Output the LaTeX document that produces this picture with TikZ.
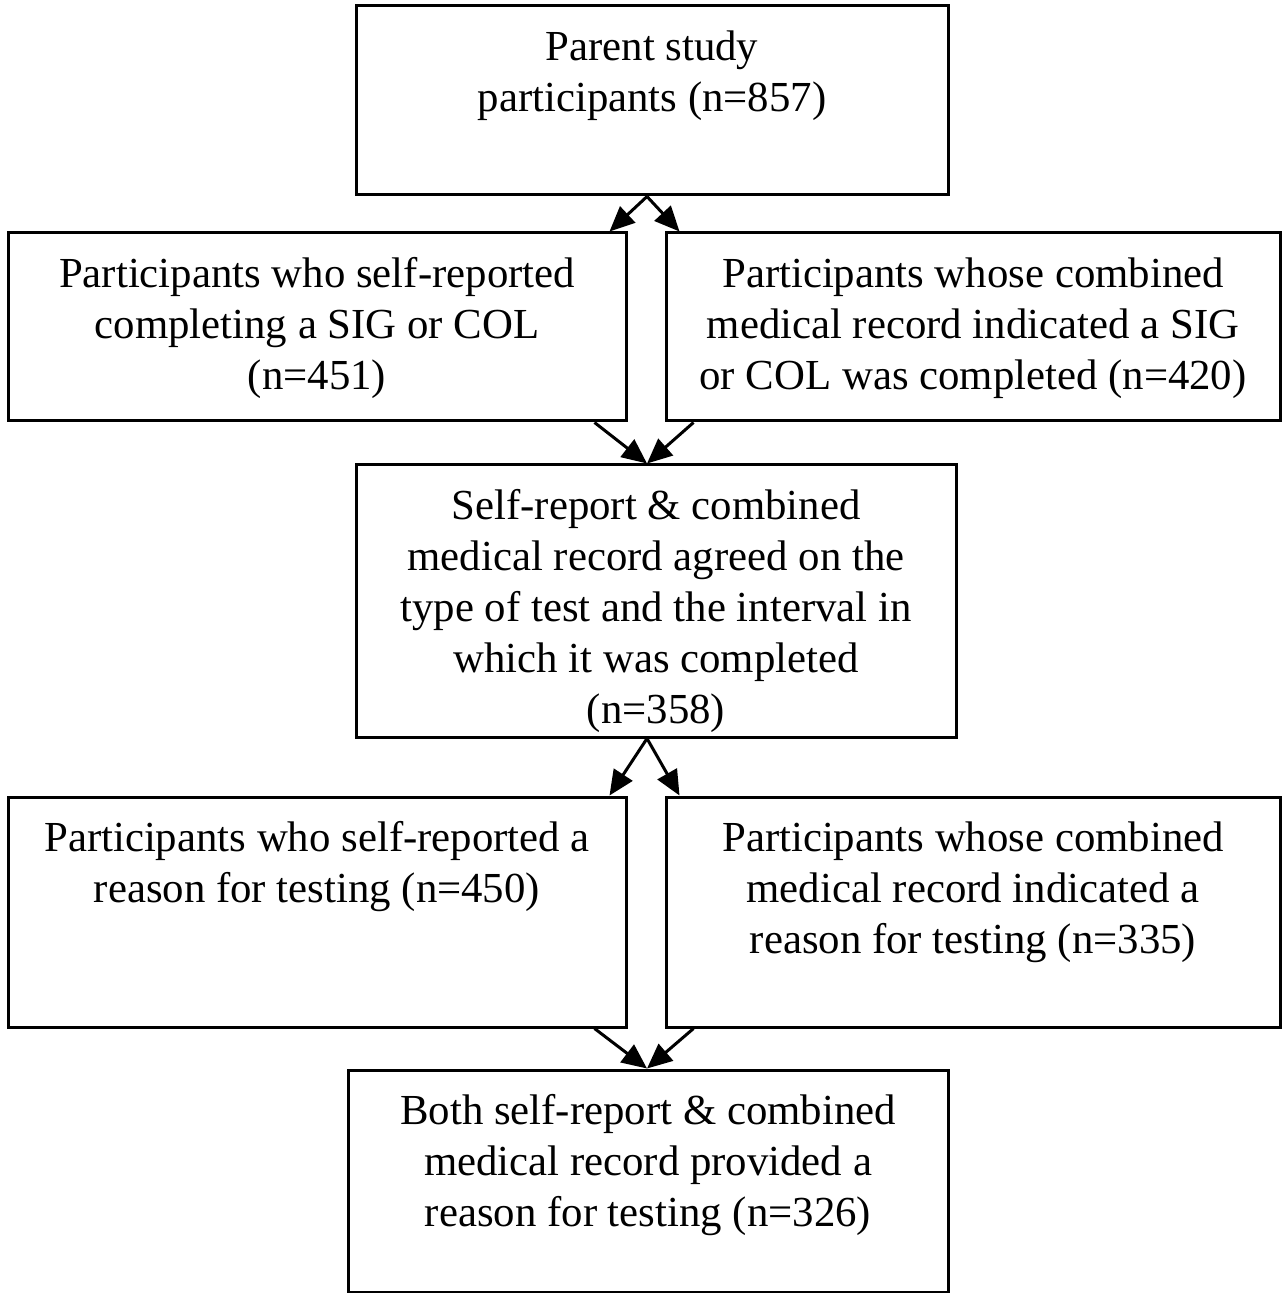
\documentclass[tikz,border=0pt]{standalone}
\usepackage{fontspec}
\setmainfont{Liberation Serif}
\usetikzlibrary{arrows.meta}
\begin{document}
\begin{tikzpicture}[x=0.5pt,y=-0.5pt,
  box/.style={draw=black, line width=1.5pt, inner sep=0pt},
  txt/.style={anchor=north, inner sep=0pt, align=center, font=\fontsize{21.4}{25.4}\selectfont},
  arr/.style={line width=1.5pt, -{Triangle[length=12.5pt,width=11pt]}}]
\useasboundingbox (0,0) rectangle (1287,1293);
\node[box, minimum width=296pt, minimum height=94.5pt] (top) at (652,100.5) {};
\node[box, minimum width=309pt, minimum height=94pt] (left) at (317,327) {};
\node[box, minimum width=307pt, minimum height=94pt] (right) at (973,327) {};
\node[box, minimum width=300pt, minimum height=136pt] (mid) at (656,601) {};
\node[box, minimum width=309pt, minimum height=115pt] (left2) at (317,912) {};
\node[box, minimum width=307pt, minimum height=115pt] (right2) at (973,912) {};
\node[box, minimum width=300pt, minimum height=111pt] (bot) at (648,1181) {};

\node[txt] (topt) at ([yshift=-10.2pt]top.north) {\strut Parent study\\participants (n=857)};
\node[txt] (leftt) at ([yshift=-10.2pt]left.north) {\strut Participants who self-reported\\completing a SIG or COL\\(n=451)};
\node[txt] (rightt) at ([yshift=-10.2pt]right.north) {\strut Participants whose combined\\medical record indicated a SIG\\or COL was completed (n=420)};
\node[txt] (midt) at ([yshift=-10.2pt]mid.north) {\strut Self-report \& combined\\medical record agreed on the\\type of test and the interval in\\which it was completed\\(n=358)};
\node[txt] (left2t) at ([yshift=-10.2pt]left2.north) {\strut Participants who self-reported a\\reason for testing (n=450)};
\node[txt] (right2t) at ([yshift=-10.2pt]right2.north) {\strut Participants whose combined\\medical record indicated a\\reason for testing (n=335)};
\node[txt] (bott) at ([yshift=-10.2pt]bot.north) {\strut Both self-report \& combined\\medical record provided a\\reason for testing (n=326)};

\draw[arr] ([xshift=-2.5pt]top.south) -- ([xshift=-9pt]left.north east);
\draw[arr] ([xshift=-2.5pt]top.south) -- ([xshift=7.5pt]right.north west);
\draw[arr] ([xshift=-16.5pt]left.south east) -- ([xshift=-4.5pt]mid.north);
\draw[arr] ([xshift=14.5pt]right.south west) -- ([xshift=-4.5pt]mid.north);
\draw[arr] ([xshift=-4.5pt]mid.south) -- ([xshift=-9pt]left2.north east);
\draw[arr] ([xshift=-4.5pt]mid.south) -- ([xshift=7.5pt]right2.north west);
\draw[arr] ([xshift=-16.5pt]left2.south east) -- ([xshift=-0.5pt]bot.north);
\draw[arr] ([xshift=14.5pt]right2.south west) -- ([xshift=-0.5pt]bot.north);
\end{tikzpicture}
\end{document}
